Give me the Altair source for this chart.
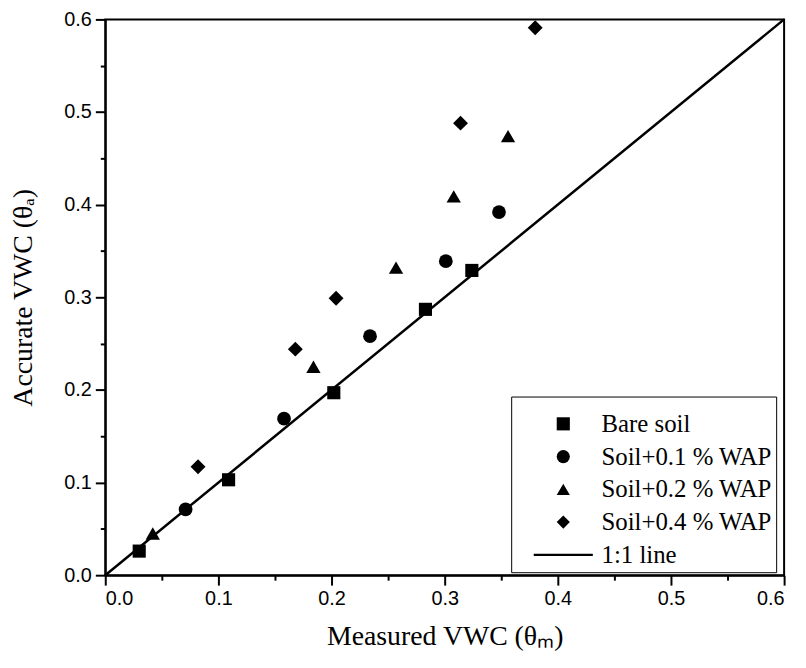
import altair as alt
import pandas as pd

series_names = ["Bare soil", "Soil+0.1 % WAP", "Soil+0.2 % WAP", "Soil+0.4 % WAP"]
line_name = "1:1 line"

bare_x = [0.030, 0.109, 0.202, 0.283, 0.324]
bare_y = [0.026, 0.103, 0.197, 0.287, 0.329]
wap01_x = [0.071, 0.158, 0.234, 0.301, 0.348]
wap01_y = [0.071, 0.169, 0.258, 0.339, 0.392]
wap02_x = [0.042, 0.184, 0.257, 0.308, 0.356]
wap02_y = [0.045, 0.225, 0.332, 0.409, 0.474]
wap04_x = [0.082, 0.168, 0.204, 0.314, 0.380]
wap04_y = [0.117, 0.244, 0.299, 0.488, 0.591]

line_x = [0.0, 0.6]
line_y = [0.0, 0.6]

major_ticks = [0.0, 0.1, 0.2, 0.3, 0.4, 0.5, 0.6]
minor_ticks = [0.05, 0.15, 0.25, 0.35, 0.45, 0.55]

rows = []
for name, xs, ys in zip(series_names,
                        [bare_x, wap01_x, wap02_x, wap04_x],
                        [bare_y, wap01_y, wap02_y, wap04_y]):
    for xv, yv in zip(xs, ys):
        rows.append({"series": name, "x": xv, "y": yv})
points_df = pd.DataFrame(rows)
line_df = pd.DataFrame({"x": line_x, "y": line_y})

domain = [0, 0.6]
xscale = alt.Scale(domain=domain, nice=False, zero=True)
yscale = alt.Scale(domain=domain, nice=False, zero=True)

major_x_axis = alt.Axis(values=major_ticks, format=".1f", orient="bottom",
                        tickSize=10, tickWidth=2, domainWidth=2, domainColor="black",
                        tickColor="black", labelFont="Liberation Sans", labelFontSize=20,
                        labelColor="black", labelPadding=4, grid=False,
                        title="Measured VWC (θₘ)", titleFont="Liberation Serif",
                        titleFontSize=28, titleFontWeight="normal", titleColor="black",
                        titlePadding=14)
major_y_axis = alt.Axis(values=major_ticks, format=".1f", orient="left",
                        tickSize=10, tickWidth=2, domainWidth=2, domainColor="black",
                        tickColor="black", labelFont="Liberation Sans", labelFontSize=20,
                        labelColor="black", labelPadding=4, grid=False,
                        title="Accurate VWC (θₐ)", titleFont="Liberation Serif",
                        titleFontSize=28, titleFontWeight="normal", titleColor="black",
                        titlePadding=27)
minor_x_axis = alt.Axis(values=minor_ticks, orient="bottom", tickSize=5, tickWidth=2,
                        tickColor="black", domain=False, labels=False, grid=False, title=None)
minor_y_axis = alt.Axis(values=minor_ticks, orient="left", tickSize=5, tickWidth=2,
                        tickColor="black", domain=False, labels=False, grid=False, title=None)

line = alt.Chart(line_df).mark_line(color="black", strokeWidth=2.5).encode(
    x=alt.X("x:Q", scale=xscale, axis=minor_x_axis),
    y=alt.Y("y:Q", scale=yscale, axis=minor_y_axis),
)

shape_domain = series_names + [line_name]
shape_range = ["square", "circle", "triangle-up", "diamond",
               "M-4.5,-0.16H4.5V0.16H-4.5Z"]
size_range = [175, 225, 320, 360]

points = alt.Chart(points_df).mark_point(filled=True, color="black", opacity=1).encode(
    x=alt.X("x:Q", scale=xscale, axis=major_x_axis),
    y=alt.Y("y:Q", scale=yscale, axis=major_y_axis),
    shape=alt.Shape("series:N",
                    scale=alt.Scale(domain=shape_domain, range=shape_range),
                    legend=alt.Legend(title=" ", titleFontSize=1, titlePadding=10,
                                      orient="none", legendX=409, legendY=380,
                                      direction="vertical", symbolSize=175,
                                      symbolFillColor="black", symbolOpacity=1,
                                      symbolOffset=36, labelOffset=26,
                                      labelFont="Liberation Serif", labelFontSize=25,
                                      labelColor="black", labelLimit=300, rowPadding=7,
                                      padding=4, strokeColor="black", fillColor="white")),
    size=alt.Size("series:N", scale=alt.Scale(domain=series_names, range=size_range),
                  legend=None),
)

chart = alt.layer(line, points).resolve_axis(
    x="independent", y="independent"
).properties(
    width=684, height=560,
    autosize=alt.AutoSizeParams(type="none"),
    padding={"left": 98, "top": 9, "right": 14, "bottom": 88},
).configure_view(stroke="black", strokeWidth=2)

chart.save("out.html", embed_options={"renderer": "svg", "actions": False})
